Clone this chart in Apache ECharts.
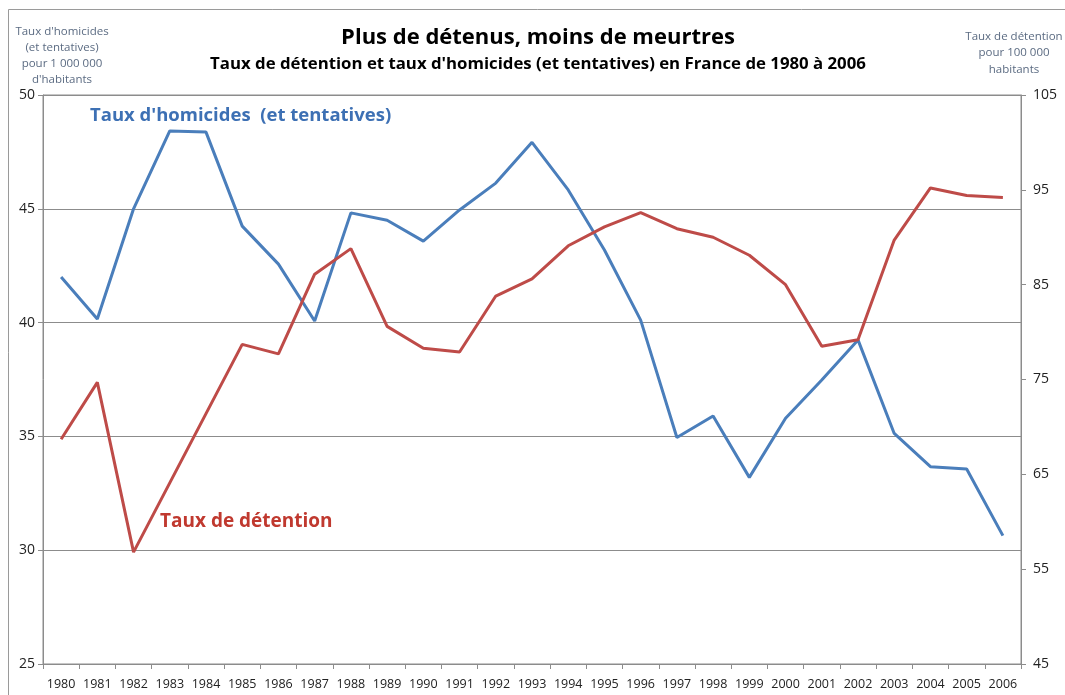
<!DOCTYPE html>
<html><head><meta charset="utf-8">
<script src="https://cdn.jsdelivr.net/npm/echarts@6/dist/echarts.min.js"></script>
<style>html,body{margin:0;padding:0;background:#fff}#c{width:1065px;height:695px}</style>
</head><body><div id="c"></div>
<script>
const years = ['1980','1981','1982','1983','1984','1985','1986','1987','1988','1989','1990','1991','1992','1993','1994','1995','1996','1997','1998','1999','2000','2001','2002','2003','2004','2005','2006'];
const homicides = [42.0,40.16,45.0,48.42,48.37,44.24,42.57,40.07,44.82,44.5,43.58,44.95,46.13,47.92,45.83,43.19,40.11,34.95,35.9,33.2,35.8,37.48,39.24,35.13,33.67,33.57,30.64];
const detention = [68.7,74.7,56.8,64.1,71.4,78.7,77.7,86.1,88.8,80.6,78.3,77.9,83.8,85.6,89.1,91.1,92.6,90.9,90.0,88.1,85.0,78.5,79.2,89.7,95.2,94.4,94.2];
const leftTicks = {min:25, max:50, interval:5};
const rightTicks = {min:45, max:105, interval:10};

const F = 'Open Sans';
const chart = echarts.init(document.getElementById('c'), null, {renderer:'canvas'});
chart.setOption({
  backgroundColor:'#fff',
  animation:false,
  grid:{left:43, right:44, top:95, bottom:31, show:true, borderColor:'#8c8c8c', borderWidth:1, backgroundColor:'transparent'},
  graphic:[
    {type:'rect', shape:{x:8.5,y:9.5,width:1062,height:700}, style:{fill:'none', stroke:'#9a9a9a', lineWidth:1}, silent:true, z:-1},
    {type:'text', x:538, y:27, style:{text:'Plus de détenus, moins de meurtres', font:'bold 22px "Open Sans"', fill:'#000', align:'center'}},
    {type:'text', x:538, y:56, style:{text:"Taux de détention et taux d'homicides (et tentatives) en France de 1980 à 2006", font:'bold 16.8px "Open Sans"', fill:'#000', align:'center'}},
    {type:'text', x:62, y:24, style:{text:"Taux d'homicides\n(et tentatives)\npour 1 000 000\nd'habitants", font:'11.5px "Open Sans"', fill:'#5b6b82', align:'center', lineHeight:16}},
    {type:'text', x:1014, y:28, style:{text:"Taux de détention\npour 100 000\nhabitants", font:'11.5px "Open Sans"', fill:'#5b6b82', align:'center', lineHeight:16.5}},
    {type:'text', x:90, y:106, style:{text:"Taux d'homicides  (et tentatives)", font:'bold 18.5px "Open Sans"', fill:'#3d70b4'}},
    {type:'text', x:160, y:512, style:{text:'Taux de détention', font:'bold 19px "Open Sans"', fill:'#c0392f'}}
  ],
  xAxis:{type:'category', data:years, boundaryGap:true,
    axisLine:{lineStyle:{color:'#8c8c8c'}},
    axisTick:{show:true, alignWithLabel:false, length:5, lineStyle:{color:'#8c8c8c'}},
    axisLabel:{color:'#222', fontFamily:F, fontSize:12.5, margin:14, interval:0}},
  yAxis:[
    {type:'value', position:'left', min:leftTicks.min, max:leftTicks.max, interval:leftTicks.interval,
      axisLine:{show:true, lineStyle:{color:'#8c8c8c'}},
      axisTick:{show:true, length:5, lineStyle:{color:'#8c8c8c'}},
      axisLabel:{color:'#222', fontFamily:F, fontSize:14, margin:8},
      splitLine:{show:true, lineStyle:{color:'#8c8c8c', width:1}}},
    {type:'value', position:'right', min:rightTicks.min, max:rightTicks.max, interval:rightTicks.interval,
      axisLine:{show:true, lineStyle:{color:'#8c8c8c'}},
      axisTick:{show:true, length:5, lineStyle:{color:'#8c8c8c'}},
      axisLabel:{color:'#222', fontFamily:F, fontSize:14, margin:12},
      splitLine:{show:false}}
  ],
  series:[
    {name:"Taux d'homicides", type:'line', yAxisIndex:0, data:homicides, showSymbol:false, symbol:'none',
      lineStyle:{color:'#4a7ebb', width:3}, itemStyle:{color:'#4a7ebb'}},
    {name:'Taux de détention', type:'line', yAxisIndex:1, data:detention, showSymbol:false, symbol:'none',
      lineStyle:{color:'#be4b48', width:3}, itemStyle:{color:'#be4b48'}}
  ]
});
</script></body></html>
